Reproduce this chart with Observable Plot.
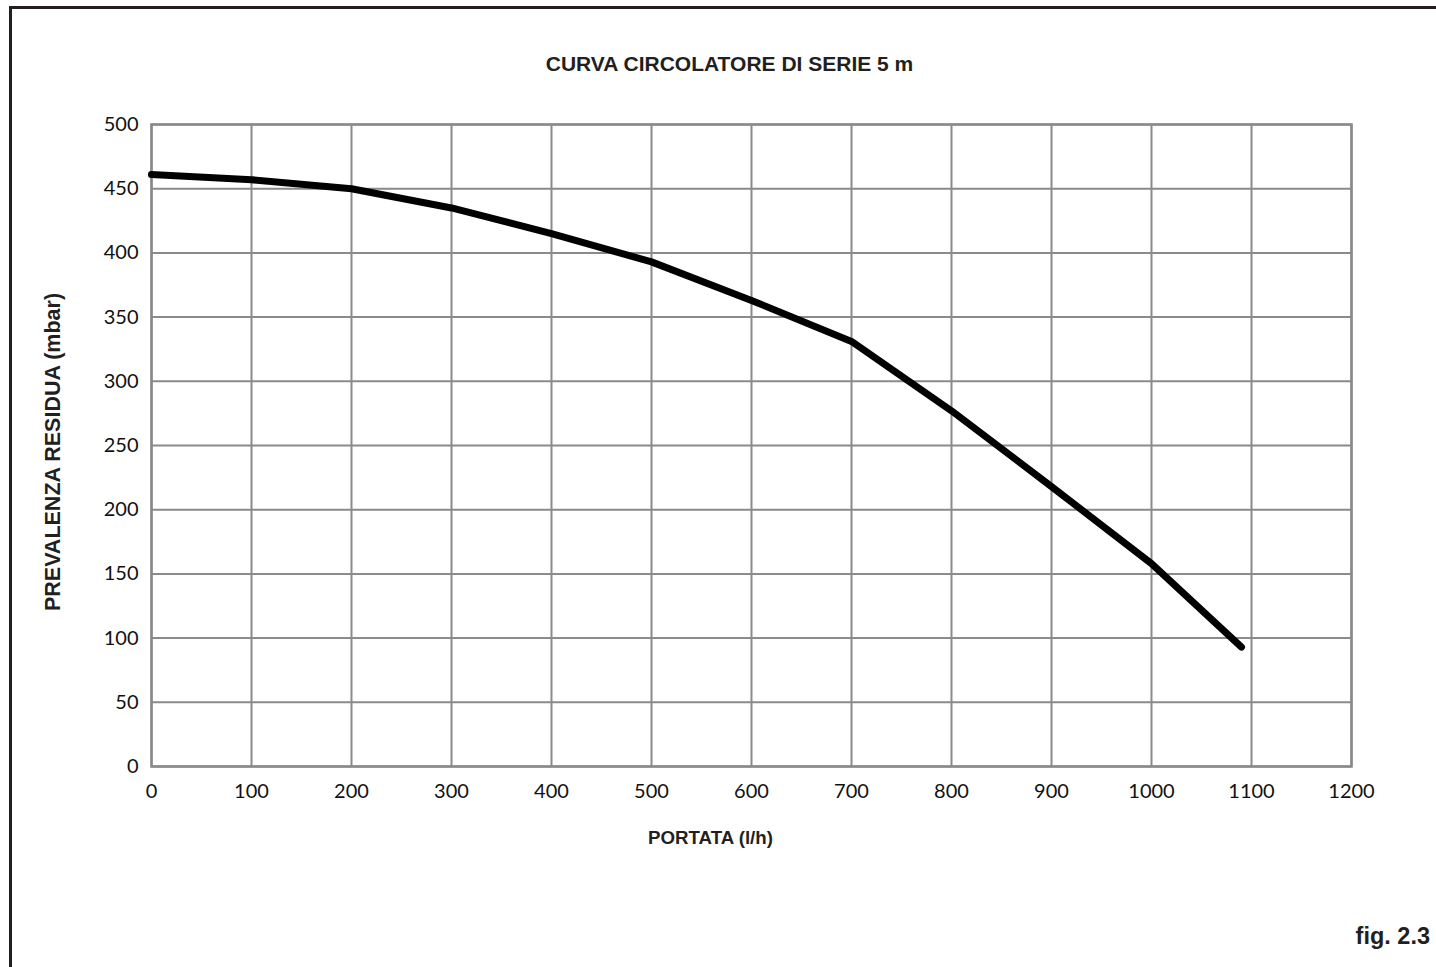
<!DOCTYPE html>
<html>
<head>
<meta charset="utf-8">
<script src="https://cdn.jsdelivr.net/npm/d3@7"></script>
<script src="https://cdn.jsdelivr.net/npm/@observablehq/plot@0.6"></script>
<style>
  html, body { margin: 0; padding: 0; background: #fff; overflow: hidden; }
  #wrap { position: relative; width: 1436px; height: 967px; }
  #frame { position: absolute; left: 9px; top: 6px; width: 3000px; height: 3000px;
           border-left: 3px solid #231f20; border-top: 3px solid #231f20; }
  #chart { position: absolute; left: 0; top: 0; }
  .lbl { position: absolute; font-family: "Liberation Sans", Arial, sans-serif; font-weight: bold;
         color: #231f20; white-space: nowrap; line-height: 1; }
</style>
</head>
<body>
<div id="wrap">
  <div id="frame"></div>
  <div id="chart"></div>
  <div class="lbl" id="title" style="font-size:21px; left:0; width:1459px; text-align:center; top:53px;">CURVA CIRCOLATORE DI SERIE 5 m</div>
  <div class="lbl" id="xlabel" style="font-size:18.7px; left:0; width:1421px; text-align:center; top:829px;">PORTATA (l/h)</div>
  <div class="lbl" id="ylabel" style="font-size:21.5px; position:absolute; left:54px; top:452px; transform: translate(-50%,-50%) rotate(-90deg);">PREVALENZA RESIDUA (mbar)</div>
  <div class="lbl" id="fig" style="font-size:23.5px; right:6px; top:925px;">fig. 2.3</div>
</div>
<script>
// Data
const flow = [0, 100, 200, 300, 400, 500, 600, 700, 800, 900, 1000, 1090];      // PORTATA (l/h)
const head = [461, 457, 450, 435, 415, 393, 363, 331, 277, 218, 158, 93];       // PREVALENZA RESIDUA (mbar)
const xTicks = [0, 100, 200, 300, 400, 500, 600, 700, 800, 900, 1000, 1100, 1200];
const yTicks = [0, 50, 100, 150, 200, 250, 300, 350, 400, 450, 500];

const data = flow.map((f, i) => ({flow: f, head: head[i]}));

const chart = Plot.plot({
  width: 1436,
  height: 967,
  marginLeft: 151,
  marginRight: 85,
  marginTop: 124,
  marginBottom: 201,
  style: {background: "transparent", fontFamily: "Lato, 'Open Sans', sans-serif", fontSize: "20px", color: "#111"},
  x: {domain: [0, 1200], ticks: xTicks},
  y: {domain: [0, 500], ticks: yTicks},
  marks: [
    Plot.gridX(xTicks, {stroke: "#8a8a8a", strokeOpacity: 1, strokeWidth: 2}),
    Plot.gridY(yTicks, {stroke: "#8a8a8a", strokeOpacity: 1, strokeWidth: 2}),
    Plot.frame({stroke: "#8a8a8a", strokeWidth: 2.5}),
    Plot.axisX(xTicks, {tickSize: 0, tickPadding: 17, label: null, fontSize: 20, tickFormat: d3.format("d")}),
    Plot.axisY(yTicks, {tickSize: 0, tickPadding: 13, label: null, fontSize: 20, tickFormat: d3.format("d")}),
    Plot.line(data, {x: "flow", y: "head", stroke: "#000", strokeWidth: 7, strokeLinecap: "round", strokeLinejoin: "round"})
  ]
});
document.getElementById("chart").appendChild(chart);
</script>
</body>
</html>
